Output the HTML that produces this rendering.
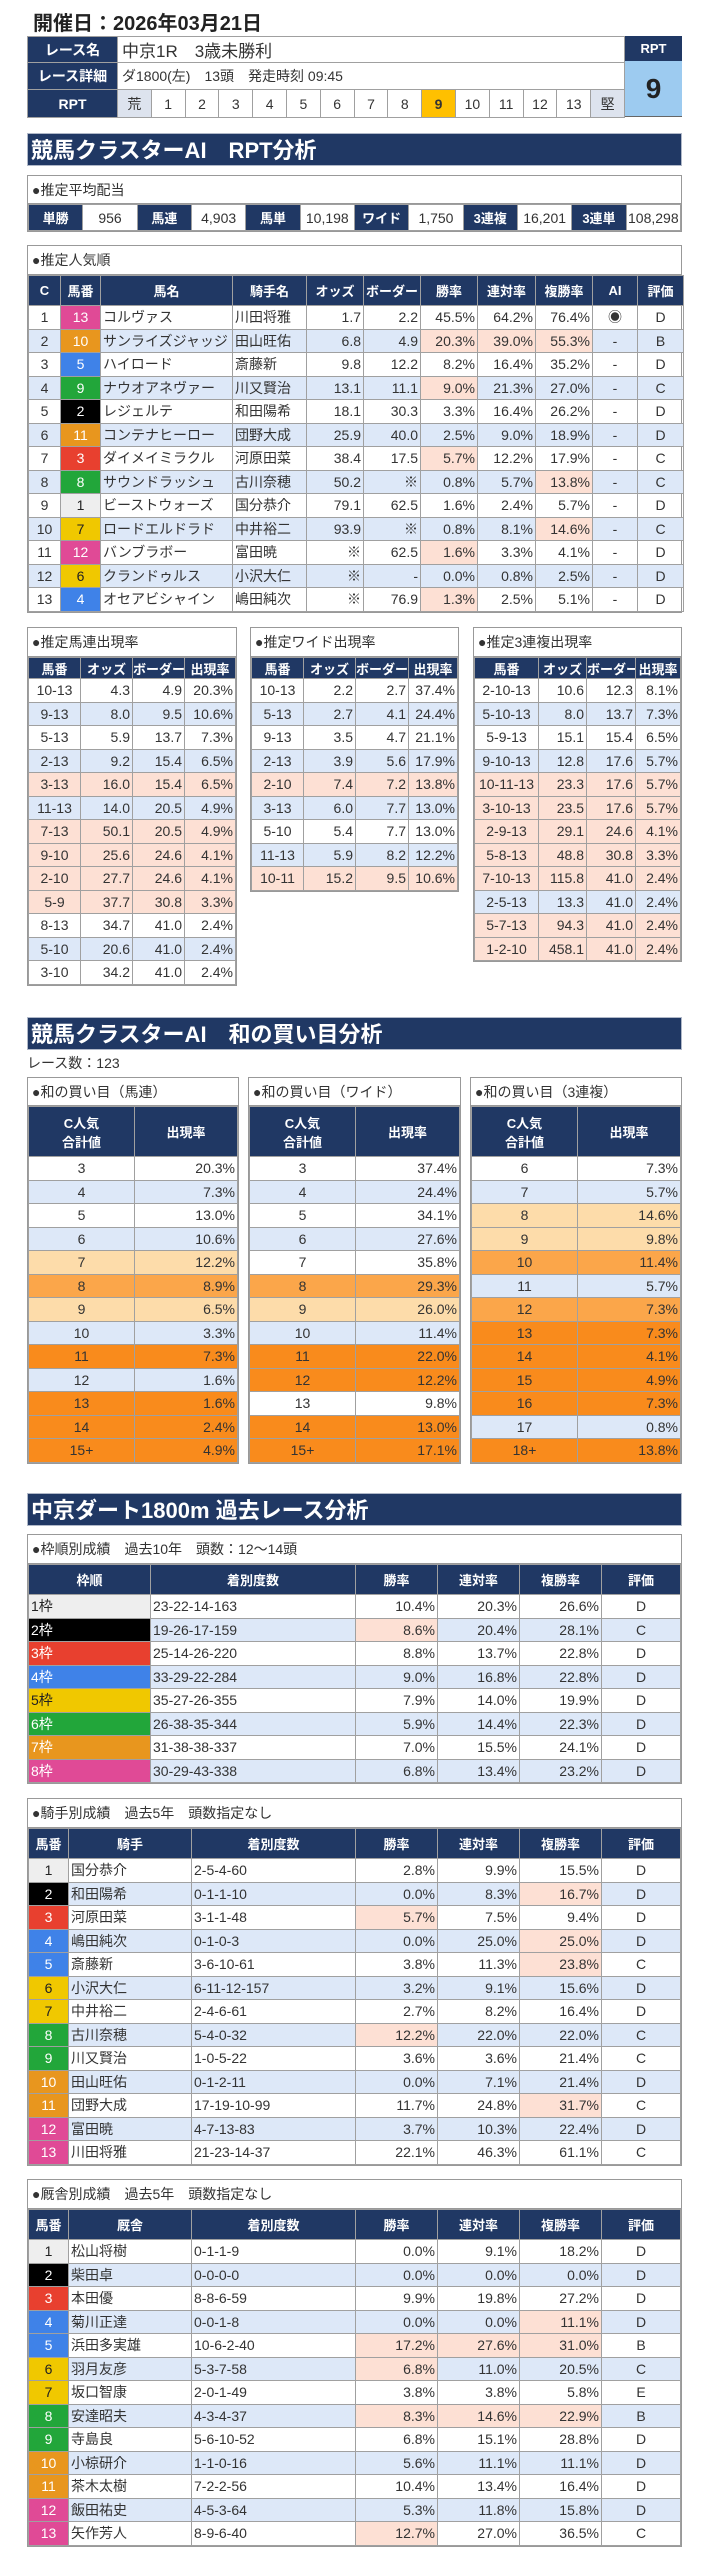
<!DOCTYPE html>
<html><head><meta charset="utf-8">
<style>
*{box-sizing:border-box;margin:0;padding:0}
body{width:705px;height:2560px;background:#fff;position:relative;font-family:"Liberation Sans","Noto Sans CJK JP",sans-serif;color:#333;overflow:hidden}
.a{position:absolute}
table{border-collapse:collapse;table-layout:fixed;width:100%}
td,th{border:1px solid #a0a0a0;font-size:14px;white-space:nowrap;overflow:hidden;font-weight:normal}
th{background:#203864;color:#fff;font-weight:bold;font-size:13px;text-align:center}
.sec{background:#203864;color:#fff;font-weight:bold;font-size:22px;line-height:33px;padding-left:3px;left:27px;width:655px;border:1px solid #b0b8c8}
.box{border:1px solid #999;background:#fff}
.ttl{font-size:14px;padding-left:4px;border-bottom:1px solid #999}
.r{text-align:right;padding-right:2px}.c{text-align:center}.l{text-align:left;padding-left:2px}
.b td{background:#dde8f8}.s td{background:#fde0d4}
td.h{background:#fde0d4}
.lo td{background:#fddcaa}.mo td{background:#fba64a}.do td{background:#f98b1c}
.w{color:#fff}
.k1{background:#eeeeee!important;color:#222}.k2{background:#000!important;color:#fff}.k3{background:#e8402f!important;color:#fff}.k4{background:#3f82e8!important;color:#fff}.k5{background:#f0c800!important;color:#222}.k6{background:#22a63a!important;color:#fff}.k7{background:#e8961e!important;color:#fff}.k8{background:#e04a96!important;color:#fff}
</style></head><body>

<div class="a" style="left:33px;top:7px;font-size:20px;font-weight:bold;color:#222">開催日：2026年03月21日</div>

<div class="a" style="left:27px;top:36px;width:598px">
<table style="border:1px solid #999">
<colgroup><col style="width:90px"><col span="15"></colgroup>
<tr style="height:26px"><th style="font-size:14px">レース名</th><td colspan="15" style="font-size:17px;padding-left:4px">中京1R　3歳未勝利</td></tr>
<tr style="height:27px"><th style="font-size:14px">レース詳細</th><td colspan="15" style="font-size:14px;padding-left:4px">ダ1800(左)　13頭　発走時刻 09:45</td></tr>
<tr style="height:28px"><th style="font-size:14px">RPT</th><td class="c" style="background:#dde3ee">荒</td><td class="c">1</td><td class="c">2</td><td class="c">3</td><td class="c">4</td><td class="c">5</td><td class="c">6</td><td class="c">7</td><td class="c">8</td><td class="c" style="background:#ffc000;font-weight:bold">9</td><td class="c">10</td><td class="c">11</td><td class="c">12</td><td class="c">13</td><td class="c" style="background:#dde3ee">堅</td></tr>
</table></div>
<div class="a" style="left:625px;top:36px;width:57px;height:25px;background:#203864;color:#fff;font-weight:bold;font-size:13px;text-align:center;line-height:25px">RPT</div>
<div class="a" style="left:625px;top:61px;width:57px;height:56px;background:#9dcbf0;color:#222;font-weight:bold;font-size:28px;text-align:center;line-height:56px;border-bottom:1px solid #666">9</div>

<div class="a sec" style="top:133px;height:33px">競馬クラスターAI　RPT分析</div>

<div class="a box" style="left:27px;top:175px;width:655px">
<div class="ttl" style="height:28px;line-height:28px">●推定平均配当</div>
<table><tr style="height:26px"><th>単勝</th><td class="c">956</td><th>馬連</th><td class="c">4,903</td><th>馬単</th><td class="c">10,198</td><th>ワイド</th><td class="c">1,750</td><th>3連複</th><td class="c">16,201</td><th>3連単</th><td class="c">108,298</td></tr></table>
</div>

<div class="a box" style="left:27px;top:245px;width:655px">
<div class="ttl" style="height:29px;line-height:29px">●推定人気順</div>
<table>
<colgroup><col style="width:32px"><col style="width:40px"><col style="width:132px"><col style="width:74px"><col style="width:57px"><col style="width:57px"><col style="width:57px"><col style="width:58px"><col style="width:57px"><col style="width:45px"><col style="width:46px"></colgroup>
<tr style="height:30px"><th>C</th><th>馬番</th><th>馬名</th><th>騎手名</th><th>オッズ</th><th>ボーダー</th><th>勝率</th><th>連対率</th><th>複勝率</th><th>AI</th><th>評価</th></tr>
<tr style="height:23.5px"><td class="c">1</td><td class="c k8">13</td><td class="l">コルヴァス</td><td class="l">川田将雅</td><td class="r">1.7</td><td class="r">2.2</td><td class="r">45.5%</td><td class="r">64.2%</td><td class="r">76.4%</td><td class="c">◉</td><td class="c">D</td></tr>
<tr class="b" style="height:23.5px"><td class="c">2</td><td class="c k7">10</td><td class="l">サンライズジャッジ</td><td class="l">田山旺佑</td><td class="r">6.8</td><td class="r">4.9</td><td class="r h">20.3%</td><td class="r h">39.0%</td><td class="r h">55.3%</td><td class="c">-</td><td class="c">B</td></tr>
<tr style="height:23.5px"><td class="c">3</td><td class="c k4">5</td><td class="l">ハイロード</td><td class="l">斎藤新</td><td class="r">9.8</td><td class="r">12.2</td><td class="r">8.2%</td><td class="r">16.4%</td><td class="r">35.2%</td><td class="c">-</td><td class="c">D</td></tr>
<tr class="b" style="height:23.5px"><td class="c">4</td><td class="c k6">9</td><td class="l">ナウオアネヴァー</td><td class="l">川又賢治</td><td class="r">13.1</td><td class="r">11.1</td><td class="r h">9.0%</td><td class="r">21.3%</td><td class="r">27.0%</td><td class="c">-</td><td class="c">C</td></tr>
<tr style="height:23.5px"><td class="c">5</td><td class="c k2">2</td><td class="l">レジェルテ</td><td class="l">和田陽希</td><td class="r">18.1</td><td class="r">30.3</td><td class="r">3.3%</td><td class="r">16.4%</td><td class="r">26.2%</td><td class="c">-</td><td class="c">D</td></tr>
<tr class="b" style="height:23.5px"><td class="c">6</td><td class="c k7">11</td><td class="l">コンテナヒーロー</td><td class="l">団野大成</td><td class="r">25.9</td><td class="r">40.0</td><td class="r">2.5%</td><td class="r">9.0%</td><td class="r">18.9%</td><td class="c">-</td><td class="c">D</td></tr>
<tr style="height:23.5px"><td class="c">7</td><td class="c k3">3</td><td class="l">ダイメイミラクル</td><td class="l">河原田菜</td><td class="r">38.4</td><td class="r">17.5</td><td class="r h">5.7%</td><td class="r">12.2%</td><td class="r">17.9%</td><td class="c">-</td><td class="c">C</td></tr>
<tr class="b" style="height:23.5px"><td class="c">8</td><td class="c k6">8</td><td class="l">サウンドラッシュ</td><td class="l">古川奈穂</td><td class="r">50.2</td><td class="r">※</td><td class="r">0.8%</td><td class="r">5.7%</td><td class="r h">13.8%</td><td class="c">-</td><td class="c">C</td></tr>
<tr style="height:23.5px"><td class="c">9</td><td class="c k1">1</td><td class="l">ビーストウォーズ</td><td class="l">国分恭介</td><td class="r">79.1</td><td class="r">62.5</td><td class="r">1.6%</td><td class="r">2.4%</td><td class="r">5.7%</td><td class="c">-</td><td class="c">D</td></tr>
<tr class="b" style="height:23.5px"><td class="c">10</td><td class="c k5">7</td><td class="l">ロードエルドラド</td><td class="l">中井裕二</td><td class="r">93.9</td><td class="r">※</td><td class="r">0.8%</td><td class="r">8.1%</td><td class="r h">14.6%</td><td class="c">-</td><td class="c">C</td></tr>
<tr style="height:23.5px"><td class="c">11</td><td class="c k8">12</td><td class="l">バンブラボー</td><td class="l">富田暁</td><td class="r">※</td><td class="r">62.5</td><td class="r h">1.6%</td><td class="r">3.3%</td><td class="r">4.1%</td><td class="c">-</td><td class="c">D</td></tr>
<tr class="b" style="height:23.5px"><td class="c">12</td><td class="c k5">6</td><td class="l">クランドゥルス</td><td class="l">小沢大仁</td><td class="r">※</td><td class="r">-</td><td class="r">0.0%</td><td class="r">0.8%</td><td class="r">2.5%</td><td class="c">-</td><td class="c">D</td></tr>
<tr style="height:23.5px"><td class="c">13</td><td class="c k4">4</td><td class="l">オセアビシャイン</td><td class="l">嶋田純次</td><td class="r">※</td><td class="r">76.9</td><td class="r h">1.3%</td><td class="r">2.5%</td><td class="r">5.1%</td><td class="c">-</td><td class="c">D</td></tr>
</table></div>

<div class="a box" style="left:27px;top:627px;width:210px">
<div class="ttl" style="height:29px;line-height:29px">●推定馬連出現率</div>
<table><colgroup><col style="width:52px"><col style="width:52px"><col style="width:52px"><col></colgroup>
<tr style="height:21px"><th>馬番</th><th>オッズ</th><th>ボーダー</th><th>出現率</th></tr>
<tr style="height:23.5px"><td class="c">10-13</td><td class="r">4.3</td><td class="r">4.9</td><td class="r">20.3%</td></tr>
<tr class="b" style="height:23.5px"><td class="c">9-13</td><td class="r">8.0</td><td class="r">9.5</td><td class="r">10.6%</td></tr>
<tr style="height:23.5px"><td class="c">5-13</td><td class="r">5.9</td><td class="r">13.7</td><td class="r">7.3%</td></tr>
<tr class="b" style="height:23.5px"><td class="c">2-13</td><td class="r">9.2</td><td class="r">15.4</td><td class="r">6.5%</td></tr>
<tr class="s" style="height:23.5px"><td class="c">3-13</td><td class="r">16.0</td><td class="r">15.4</td><td class="r">6.5%</td></tr>
<tr class="b" style="height:23.5px"><td class="c">11-13</td><td class="r">14.0</td><td class="r">20.5</td><td class="r">4.9%</td></tr>
<tr class="s" style="height:23.5px"><td class="c">7-13</td><td class="r">50.1</td><td class="r">20.5</td><td class="r">4.9%</td></tr>
<tr class="s" style="height:23.5px"><td class="c">9-10</td><td class="r">25.6</td><td class="r">24.6</td><td class="r">4.1%</td></tr>
<tr class="s" style="height:23.5px"><td class="c">2-10</td><td class="r">27.7</td><td class="r">24.6</td><td class="r">4.1%</td></tr>
<tr class="s" style="height:23.5px"><td class="c">5-9</td><td class="r">37.7</td><td class="r">30.8</td><td class="r">3.3%</td></tr>
<tr style="height:23.5px"><td class="c">8-13</td><td class="r">34.7</td><td class="r">41.0</td><td class="r">2.4%</td></tr>
<tr class="b" style="height:23.5px"><td class="c">5-10</td><td class="r">20.6</td><td class="r">41.0</td><td class="r">2.4%</td></tr>
<tr style="height:23.5px"><td class="c">3-10</td><td class="r">34.2</td><td class="r">41.0</td><td class="r">2.4%</td></tr>
</table></div>

<div class="a box" style="left:250px;top:627px;width:209px">
<div class="ttl" style="height:29px;line-height:29px">●推定ワイド出現率</div>
<table><colgroup><col style="width:52px"><col style="width:52px"><col style="width:53px"><col></colgroup>
<tr style="height:21px"><th>馬番</th><th>オッズ</th><th>ボーダー</th><th>出現率</th></tr>
<tr style="height:23.5px"><td class="c">10-13</td><td class="r">2.2</td><td class="r">2.7</td><td class="r">37.4%</td></tr>
<tr class="b" style="height:23.5px"><td class="c">5-13</td><td class="r">2.7</td><td class="r">4.1</td><td class="r">24.4%</td></tr>
<tr style="height:23.5px"><td class="c">9-13</td><td class="r">3.5</td><td class="r">4.7</td><td class="r">21.1%</td></tr>
<tr class="b" style="height:23.5px"><td class="c">2-13</td><td class="r">3.9</td><td class="r">5.6</td><td class="r">17.9%</td></tr>
<tr class="s" style="height:23.5px"><td class="c">2-10</td><td class="r">7.4</td><td class="r">7.2</td><td class="r">13.8%</td></tr>
<tr class="b" style="height:23.5px"><td class="c">3-13</td><td class="r">6.0</td><td class="r">7.7</td><td class="r">13.0%</td></tr>
<tr style="height:23.5px"><td class="c">5-10</td><td class="r">5.4</td><td class="r">7.7</td><td class="r">13.0%</td></tr>
<tr class="b" style="height:23.5px"><td class="c">11-13</td><td class="r">5.9</td><td class="r">8.2</td><td class="r">12.2%</td></tr>
<tr class="s" style="height:23.5px"><td class="c">10-11</td><td class="r">15.2</td><td class="r">9.5</td><td class="r">10.6%</td></tr>
</table></div>

<div class="a box" style="left:473px;top:627px;width:209px">
<div class="ttl" style="height:29px;line-height:29px">●推定3連複出現率</div>
<table><colgroup><col style="width:64px"><col style="width:48px"><col style="width:49px"><col></colgroup>
<tr style="height:21px"><th>馬番</th><th>オッズ</th><th>ボーダー</th><th>出現率</th></tr>
<tr style="height:23.5px"><td class="c">2-10-13</td><td class="r">10.6</td><td class="r">12.3</td><td class="r">8.1%</td></tr>
<tr class="b" style="height:23.5px"><td class="c">5-10-13</td><td class="r">8.0</td><td class="r">13.7</td><td class="r">7.3%</td></tr>
<tr style="height:23.5px"><td class="c">5-9-13</td><td class="r">15.1</td><td class="r">15.4</td><td class="r">6.5%</td></tr>
<tr class="b" style="height:23.5px"><td class="c">9-10-13</td><td class="r">12.8</td><td class="r">17.6</td><td class="r">5.7%</td></tr>
<tr class="s" style="height:23.5px"><td class="c">10-11-13</td><td class="r">23.3</td><td class="r">17.6</td><td class="r">5.7%</td></tr>
<tr class="s" style="height:23.5px"><td class="c">3-10-13</td><td class="r">23.5</td><td class="r">17.6</td><td class="r">5.7%</td></tr>
<tr class="s" style="height:23.5px"><td class="c">2-9-13</td><td class="r">29.1</td><td class="r">24.6</td><td class="r">4.1%</td></tr>
<tr class="s" style="height:23.5px"><td class="c">5-8-13</td><td class="r">48.8</td><td class="r">30.8</td><td class="r">3.3%</td></tr>
<tr class="s" style="height:23.5px"><td class="c">7-10-13</td><td class="r">115.8</td><td class="r">41.0</td><td class="r">2.4%</td></tr>
<tr class="b" style="height:23.5px"><td class="c">2-5-13</td><td class="r">13.3</td><td class="r">41.0</td><td class="r">2.4%</td></tr>
<tr class="s" style="height:23.5px"><td class="c">5-7-13</td><td class="r">94.3</td><td class="r">41.0</td><td class="r">2.4%</td></tr>
<tr class="s" style="height:23.5px"><td class="c">1-2-10</td><td class="r">458.1</td><td class="r">41.0</td><td class="r">2.4%</td></tr>
</table></div>

<div class="a sec" style="top:1017px;height:33px">競馬クラスターAI　和の買い目分析</div>
<div class="a" style="left:27px;top:1053px;font-size:14px">レース数：123</div>

<div class="a box" style="left:27px;top:1077px;width:212px">
<div class="ttl" style="height:28px;line-height:28px">●和の買い目（馬連）</div>
<table><colgroup><col style="width:106px"><col></colgroup>
<tr style="height:50px"><th>C人気<br>合計値</th><th>出現率</th></tr>
<tr style="height:23.5px"><td class="c">3</td><td class="r">20.3%</td></tr>
<tr class="b" style="height:23.5px"><td class="c">4</td><td class="r">7.3%</td></tr>
<tr style="height:23.5px"><td class="c">5</td><td class="r">13.0%</td></tr>
<tr class="b" style="height:23.5px"><td class="c">6</td><td class="r">10.6%</td></tr>
<tr class="lo" style="height:23.5px"><td class="c">7</td><td class="r">12.2%</td></tr>
<tr class="mo" style="height:23.5px"><td class="c">8</td><td class="r">8.9%</td></tr>
<tr class="lo" style="height:23.5px"><td class="c">9</td><td class="r">6.5%</td></tr>
<tr class="b" style="height:23.5px"><td class="c">10</td><td class="r">3.3%</td></tr>
<tr class="do" style="height:23.5px"><td class="c">11</td><td class="r">7.3%</td></tr>
<tr class="b" style="height:23.5px"><td class="c">12</td><td class="r">1.6%</td></tr>
<tr class="do" style="height:23.5px"><td class="c">13</td><td class="r">1.6%</td></tr>
<tr class="do" style="height:23.5px"><td class="c">14</td><td class="r">2.4%</td></tr>
<tr class="do" style="height:23.5px"><td class="c">15+</td><td class="r">4.9%</td></tr>
</table></div>

<div class="a box" style="left:248px;top:1077px;width:213px">
<div class="ttl" style="height:28px;line-height:28px">●和の買い目（ワイド）</div>
<table><colgroup><col style="width:106px"><col></colgroup>
<tr style="height:50px"><th>C人気<br>合計値</th><th>出現率</th></tr>
<tr style="height:23.5px"><td class="c">3</td><td class="r">37.4%</td></tr>
<tr class="b" style="height:23.5px"><td class="c">4</td><td class="r">24.4%</td></tr>
<tr style="height:23.5px"><td class="c">5</td><td class="r">34.1%</td></tr>
<tr class="b" style="height:23.5px"><td class="c">6</td><td class="r">27.6%</td></tr>
<tr style="height:23.5px"><td class="c">7</td><td class="r">35.8%</td></tr>
<tr class="mo" style="height:23.5px"><td class="c">8</td><td class="r">29.3%</td></tr>
<tr class="lo" style="height:23.5px"><td class="c">9</td><td class="r">26.0%</td></tr>
<tr class="b" style="height:23.5px"><td class="c">10</td><td class="r">11.4%</td></tr>
<tr class="do" style="height:23.5px"><td class="c">11</td><td class="r">22.0%</td></tr>
<tr class="do" style="height:23.5px"><td class="c">12</td><td class="r">12.2%</td></tr>
<tr style="height:23.5px"><td class="c">13</td><td class="r">9.8%</td></tr>
<tr class="do" style="height:23.5px"><td class="c">14</td><td class="r">13.0%</td></tr>
<tr class="do" style="height:23.5px"><td class="c">15+</td><td class="r">17.1%</td></tr>
</table></div>

<div class="a box" style="left:470px;top:1077px;width:212px">
<div class="ttl" style="height:28px;line-height:28px">●和の買い目（3連複）</div>
<table><colgroup><col style="width:106px"><col></colgroup>
<tr style="height:50px"><th>C人気<br>合計値</th><th>出現率</th></tr>
<tr style="height:23.5px"><td class="c">6</td><td class="r">7.3%</td></tr>
<tr class="b" style="height:23.5px"><td class="c">7</td><td class="r">5.7%</td></tr>
<tr class="lo" style="height:23.5px"><td class="c">8</td><td class="r">14.6%</td></tr>
<tr class="lo" style="height:23.5px"><td class="c">9</td><td class="r">9.8%</td></tr>
<tr class="mo" style="height:23.5px"><td class="c">10</td><td class="r">11.4%</td></tr>
<tr class="b" style="height:23.5px"><td class="c">11</td><td class="r">5.7%</td></tr>
<tr class="mo" style="height:23.5px"><td class="c">12</td><td class="r">7.3%</td></tr>
<tr class="do" style="height:23.5px"><td class="c">13</td><td class="r">7.3%</td></tr>
<tr class="do" style="height:23.5px"><td class="c">14</td><td class="r">4.1%</td></tr>
<tr class="do" style="height:23.5px"><td class="c">15</td><td class="r">4.9%</td></tr>
<tr class="do" style="height:23.5px"><td class="c">16</td><td class="r">7.3%</td></tr>
<tr class="b" style="height:23.5px"><td class="c">17</td><td class="r">0.8%</td></tr>
<tr class="do" style="height:23.5px"><td class="c">18+</td><td class="r">13.8%</td></tr>
</table></div>

<div class="a sec" style="top:1493px;height:33px">中京ダート1800m 過去レース分析</div>

<div class="a box" style="left:27px;top:1534px;width:655px">
<div class="ttl" style="height:29px;line-height:29px">●枠順別成績　過去10年　頭数：12～14頭</div>
<table><colgroup><col style="width:122px"><col style="width:205px"><col style="width:82px"><col style="width:82px"><col style="width:82px"><col></colgroup>
<tr style="height:30px"><th>枠順</th><th>着別度数</th><th>勝率</th><th>連対率</th><th>複勝率</th><th>評価</th></tr>
<tr style="height:23.5px"><td class="l k1">1枠</td><td class="l">23-22-14-163</td><td class="r">10.4%</td><td class="r">20.3%</td><td class="r">26.6%</td><td class="c">D</td></tr>
<tr class="b" style="height:23.5px"><td class="l k2">2枠</td><td class="l">19-26-17-159</td><td class="r h">8.6%</td><td class="r">20.4%</td><td class="r">28.1%</td><td class="c">C</td></tr>
<tr style="height:23.5px"><td class="l k3">3枠</td><td class="l">25-14-26-220</td><td class="r">8.8%</td><td class="r">13.7%</td><td class="r">22.8%</td><td class="c">D</td></tr>
<tr class="b" style="height:23.5px"><td class="l k4">4枠</td><td class="l">33-29-22-284</td><td class="r">9.0%</td><td class="r">16.8%</td><td class="r">22.8%</td><td class="c">D</td></tr>
<tr style="height:23.5px"><td class="l k5">5枠</td><td class="l">35-27-26-355</td><td class="r">7.9%</td><td class="r">14.0%</td><td class="r">19.9%</td><td class="c">D</td></tr>
<tr class="b" style="height:23.5px"><td class="l k6">6枠</td><td class="l">26-38-35-344</td><td class="r">5.9%</td><td class="r">14.4%</td><td class="r">22.3%</td><td class="c">D</td></tr>
<tr style="height:23.5px"><td class="l k7">7枠</td><td class="l">31-38-38-337</td><td class="r">7.0%</td><td class="r">15.5%</td><td class="r">24.1%</td><td class="c">D</td></tr>
<tr class="b" style="height:23.5px"><td class="l k8">8枠</td><td class="l">30-29-43-338</td><td class="r">6.8%</td><td class="r">13.4%</td><td class="r">23.2%</td><td class="c">D</td></tr>
</table></div>

<div class="a box" style="left:27px;top:1798px;width:655px">
<div class="ttl" style="height:29px;line-height:29px">●騎手別成績　過去5年　頭数指定なし</div>
<table><colgroup><col style="width:40px"><col style="width:123px"><col style="width:164px"><col style="width:82px"><col style="width:82px"><col style="width:82px"><col></colgroup>
<tr style="height:30px"><th>馬番</th><th>騎手</th><th>着別度数</th><th>勝率</th><th>連対率</th><th>複勝率</th><th>評価</th></tr>
<tr style="height:23.5px"><td class="c k1">1</td><td class="l">国分恭介</td><td class="l">2-5-4-60</td><td class="r">2.8%</td><td class="r">9.9%</td><td class="r">15.5%</td><td class="c">D</td></tr>
<tr class="b" style="height:23.5px"><td class="c k2">2</td><td class="l">和田陽希</td><td class="l">0-1-1-10</td><td class="r">0.0%</td><td class="r">8.3%</td><td class="r h">16.7%</td><td class="c">D</td></tr>
<tr style="height:23.5px"><td class="c k3">3</td><td class="l">河原田菜</td><td class="l">3-1-1-48</td><td class="r h">5.7%</td><td class="r">7.5%</td><td class="r">9.4%</td><td class="c">D</td></tr>
<tr class="b" style="height:23.5px"><td class="c k4">4</td><td class="l">嶋田純次</td><td class="l">0-1-0-3</td><td class="r">0.0%</td><td class="r">25.0%</td><td class="r h">25.0%</td><td class="c">D</td></tr>
<tr style="height:23.5px"><td class="c k4">5</td><td class="l">斎藤新</td><td class="l">3-6-10-61</td><td class="r">3.8%</td><td class="r">11.3%</td><td class="r h">23.8%</td><td class="c">C</td></tr>
<tr class="b" style="height:23.5px"><td class="c k5">6</td><td class="l">小沢大仁</td><td class="l">6-11-12-157</td><td class="r">3.2%</td><td class="r">9.1%</td><td class="r">15.6%</td><td class="c">D</td></tr>
<tr style="height:23.5px"><td class="c k5">7</td><td class="l">中井裕二</td><td class="l">2-4-6-61</td><td class="r">2.7%</td><td class="r">8.2%</td><td class="r">16.4%</td><td class="c">D</td></tr>
<tr class="b" style="height:23.5px"><td class="c k6">8</td><td class="l">古川奈穂</td><td class="l">5-4-0-32</td><td class="r h">12.2%</td><td class="r">22.0%</td><td class="r">22.0%</td><td class="c">C</td></tr>
<tr style="height:23.5px"><td class="c k6">9</td><td class="l">川又賢治</td><td class="l">1-0-5-22</td><td class="r">3.6%</td><td class="r">3.6%</td><td class="r">21.4%</td><td class="c">C</td></tr>
<tr class="b" style="height:23.5px"><td class="c k7">10</td><td class="l">田山旺佑</td><td class="l">0-1-2-11</td><td class="r">0.0%</td><td class="r">7.1%</td><td class="r">21.4%</td><td class="c">D</td></tr>
<tr style="height:23.5px"><td class="c k7">11</td><td class="l">団野大成</td><td class="l">17-19-10-99</td><td class="r">11.7%</td><td class="r">24.8%</td><td class="r h">31.7%</td><td class="c">C</td></tr>
<tr class="b" style="height:23.5px"><td class="c k8">12</td><td class="l">富田暁</td><td class="l">4-7-13-83</td><td class="r">3.7%</td><td class="r">10.3%</td><td class="r">22.4%</td><td class="c">D</td></tr>
<tr style="height:23.5px"><td class="c k8">13</td><td class="l">川田将雅</td><td class="l">21-23-14-37</td><td class="r">22.1%</td><td class="r">46.3%</td><td class="r">61.1%</td><td class="c">C</td></tr>
</table></div>

<div class="a box" style="left:27px;top:2179px;width:655px">
<div class="ttl" style="height:29px;line-height:29px">●厩舎別成績　過去5年　頭数指定なし</div>
<table><colgroup><col style="width:40px"><col style="width:123px"><col style="width:164px"><col style="width:82px"><col style="width:82px"><col style="width:82px"><col></colgroup>
<tr style="height:30px"><th>馬番</th><th>厩舎</th><th>着別度数</th><th>勝率</th><th>連対率</th><th>複勝率</th><th>評価</th></tr>
<tr style="height:23.5px"><td class="c k1">1</td><td class="l">松山将樹</td><td class="l">0-1-1-9</td><td class="r">0.0%</td><td class="r">9.1%</td><td class="r">18.2%</td><td class="c">D</td></tr>
<tr class="b" style="height:23.5px"><td class="c k2">2</td><td class="l">柴田卓</td><td class="l">0-0-0-0</td><td class="r">0.0%</td><td class="r">0.0%</td><td class="r">0.0%</td><td class="c">D</td></tr>
<tr style="height:23.5px"><td class="c k3">3</td><td class="l">本田優</td><td class="l">8-8-6-59</td><td class="r">9.9%</td><td class="r">19.8%</td><td class="r">27.2%</td><td class="c">D</td></tr>
<tr class="b" style="height:23.5px"><td class="c k4">4</td><td class="l">菊川正達</td><td class="l">0-0-1-8</td><td class="r">0.0%</td><td class="r">0.0%</td><td class="r h">11.1%</td><td class="c">D</td></tr>
<tr style="height:23.5px"><td class="c k4">5</td><td class="l">浜田多実雄</td><td class="l">10-6-2-40</td><td class="r h">17.2%</td><td class="r h">27.6%</td><td class="r h">31.0%</td><td class="c">B</td></tr>
<tr class="b" style="height:23.5px"><td class="c k5">6</td><td class="l">羽月友彦</td><td class="l">5-3-7-58</td><td class="r h">6.8%</td><td class="r">11.0%</td><td class="r">20.5%</td><td class="c">C</td></tr>
<tr style="height:23.5px"><td class="c k5">7</td><td class="l">坂口智康</td><td class="l">2-0-1-49</td><td class="r">3.8%</td><td class="r">3.8%</td><td class="r">5.8%</td><td class="c">E</td></tr>
<tr class="b" style="height:23.5px"><td class="c k6">8</td><td class="l">安達昭夫</td><td class="l">4-3-4-37</td><td class="r h">8.3%</td><td class="r h">14.6%</td><td class="r h">22.9%</td><td class="c">B</td></tr>
<tr style="height:23.5px"><td class="c k6">9</td><td class="l">寺島良</td><td class="l">5-6-10-52</td><td class="r">6.8%</td><td class="r">15.1%</td><td class="r">28.8%</td><td class="c">D</td></tr>
<tr class="b" style="height:23.5px"><td class="c k7">10</td><td class="l">小椋研介</td><td class="l">1-1-0-16</td><td class="r">5.6%</td><td class="r">11.1%</td><td class="r">11.1%</td><td class="c">D</td></tr>
<tr style="height:23.5px"><td class="c k7">11</td><td class="l">茶木太樹</td><td class="l">7-2-2-56</td><td class="r">10.4%</td><td class="r">13.4%</td><td class="r">16.4%</td><td class="c">D</td></tr>
<tr class="b" style="height:23.5px"><td class="c k8">12</td><td class="l">飯田祐史</td><td class="l">4-5-3-64</td><td class="r">5.3%</td><td class="r">11.8%</td><td class="r">15.8%</td><td class="c">D</td></tr>
<tr style="height:23.5px"><td class="c k8">13</td><td class="l">矢作芳人</td><td class="l">8-9-6-40</td><td class="r h">12.7%</td><td class="r">27.0%</td><td class="r">36.5%</td><td class="c">C</td></tr>
</table></div>

</body></html>
